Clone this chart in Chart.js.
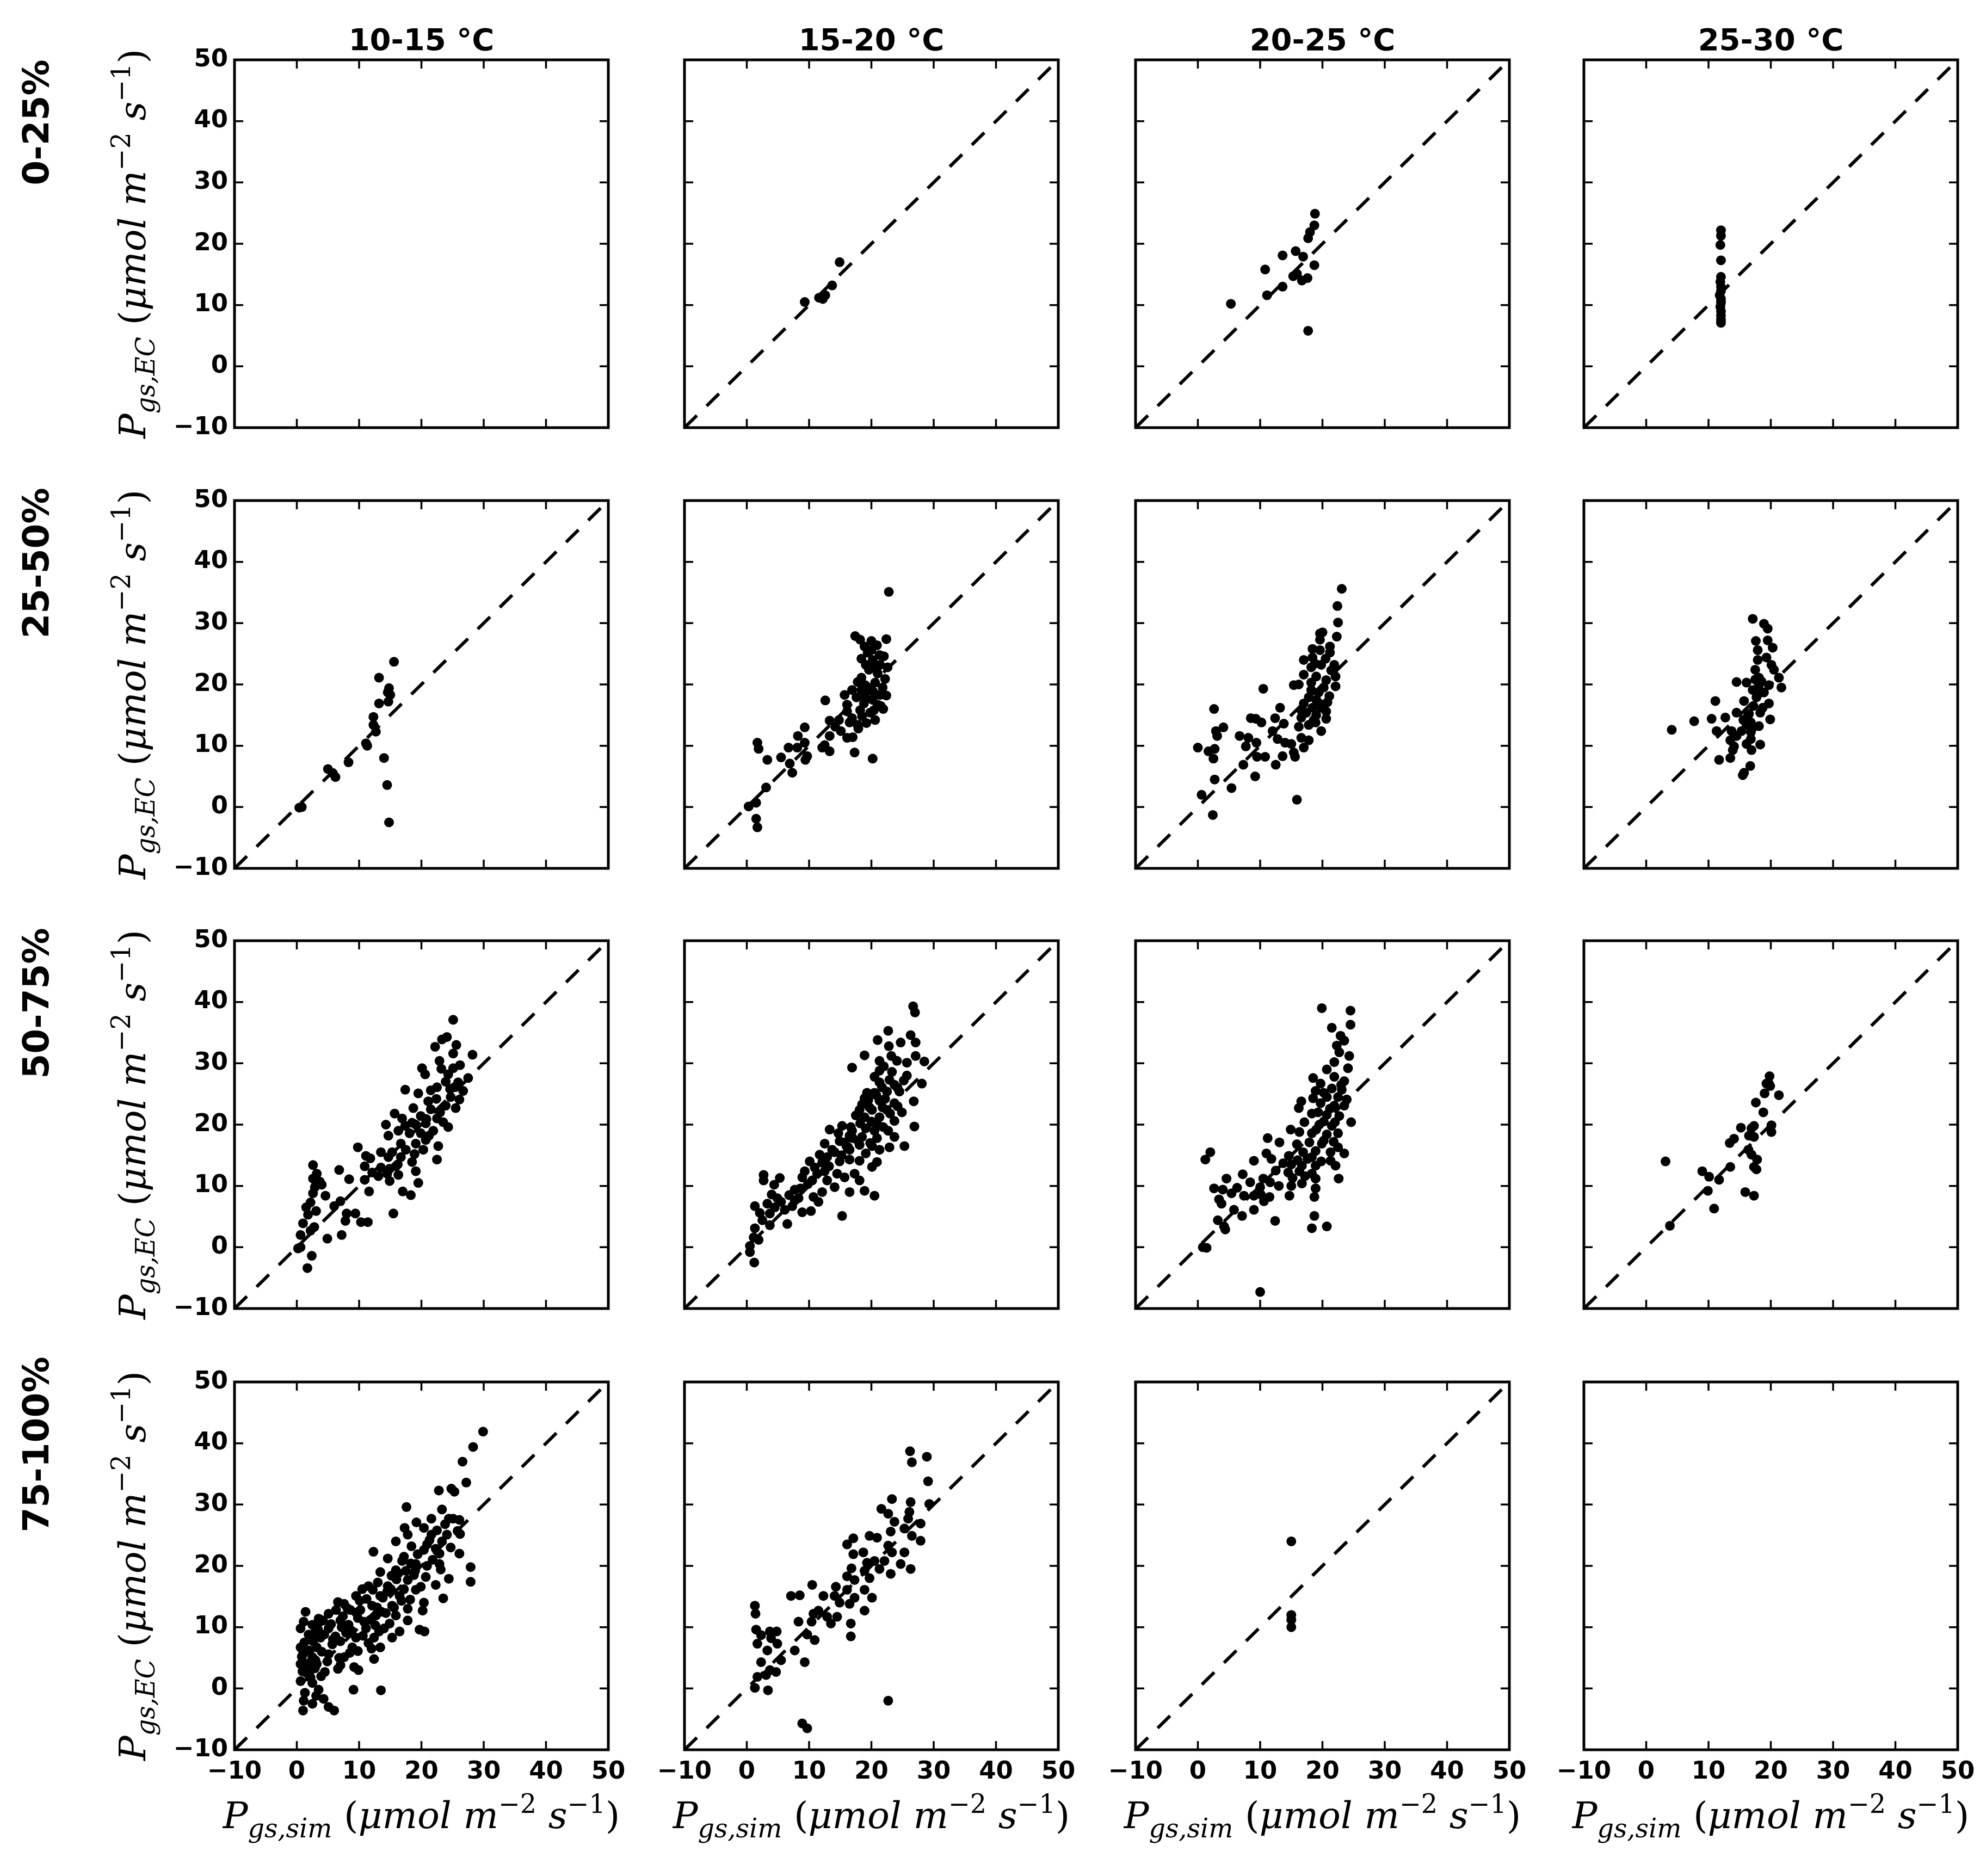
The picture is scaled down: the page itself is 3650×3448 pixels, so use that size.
<!DOCTYPE html>
<html>
<head>
<meta charset="utf-8">
<script src="https://cdn.jsdelivr.net/npm/chart.js"></script>
<style>
  html, body { margin: 0; padding: 0; background: #fff; }
  #page { position: relative; width: 3650px; height: 3448px; overflow: hidden; background: #fff; }
  canvas { position: absolute; }
  .coltitle { position: absolute; text-align: center; font: bold 56px 'DejaVu Sans'; line-height: 56px; color: #000; }
  .rowlab { position: absolute; white-space: nowrap; font: bold 66px 'DejaVu Sans'; color: #000;
            transform: translate(-50%, -50%) rotate(-90deg); }
  .math { position: absolute; white-space: nowrap; font: 68px 'DejaVu Serif'; color: #000; line-height: 1; }
  .math i { font-style: italic; }
  .math sub { font-size: 70%; vertical-align: -0.35em; }
  .math sup { font-size: 70%; vertical-align: 0.6em; }
  .ylab { transform: translate(-50%, -50%) rotate(-90deg); }
  .xlab { transform: translate(-50%, -50%); }
</style>
</head>
<body>
<div id="page"></div>
<script>
// axis setup shared by every panel
const axisMin = -10;
const axisMax = 50;
const tickValues = [-10, 0, 10, 20, 30, 40, 50];

const tempBins = ['10-15 °C', '15-20 °C', '20-25 °C', '25-30 °C'];
const pctBins = ['0-25%', '25-50%', '50-75%', '75-100%'];

// [Pgs,sim, Pgs,EC] pairs
const pct0_25_t10_15 = [];
const pct0_25_t15_20 = [[9.3,10.5],[11.6,11.2],[12.2,11],[12.6,11.6],[13.7,13.2],[14.9,17]];
const pct0_25_t20_25 = [[5.3,10.2],[11.1,11.6],[10.8,15.8],[13.6,13],[13.6,18.1],[15.7,18.8],[15.3,14.7],[15.9,15.1],
  [16.7,14],[16.9,17.9],[17.6,14.4],[17.7,20.9],[18,21.9],[18.7,16.5],[18.7,23],[18.8,24.9],[17.7,5.8]];
const pct0_25_t25_30 = [[12,22.2],[12,21.3],[11.9,19.8],[12,17.3],[12,14.6],[11.9,13.8],[12,13],[12,12.3],
  [11.8,11.6],[12,11],[12,10.4],[11.9,9.7],[12,9],[12,8.3],[12,7.6],[12,7.1]];

const pct25_50_t10_15 = [[0.8,0],[0.4,-0.1],[5,6.2],[5.8,5.5],[6.2,4.9],[8.3,7.3],[11.1,10.4],[11.3,10],[12.3,13.4],
  [12.7,12.3],[12.3,14.7],[13.2,21.1],[13.2,16.9],[14,8],[14.5,3.6],[14.8,-2.5],[14.8,19.4],[15,18.3],[14.7,17.2],
  [15.6,23.7],[14.6,18.7]];
const pct25_50_t15_20 = [[22.8,35.1],[17.4,27.9],[18.2,27.3],[20,27.1],[22.4,27.4],[20,25.6],[18.4,24.2],[22,24.6],
  [20.2,24],[22.6,22.8],[20.2,22.8],[18.4,21.1],[21,21.8],[22.2,20.9],[20.6,20.3],[19.6,19.1],[16.9,19.1],[18.4,19.1],
  [15.7,18.3],[21.4,18.3],[22.4,18.2],[20.2,17.5],[18.8,16.9],[16.1,16.7],[21,16.7],[21.9,16],[16.1,15.6],[18.2,15.8],
  [19.8,15.4],[12.6,17.4],[13.3,14.1],[14.8,14.2],[16.5,13.8],[17.8,13.4],[19.2,13.7],[20.6,14.2],[15.1,12.4],
  [17.9,12.8],[16.1,11.3],[17,11.4],[17.3,8.9],[20.2,7.9],[12.5,10.1],[13.3,11.6],[12.1,9.7],[13.3,9.1],[9.3,13],
  [8.2,11.6],[9.3,10.5],[6.7,9.7],[8.1,9.7],[9.7,8.3],[9.4,7.7],[5.5,8.1],[6.9,7.1],[7.3,5.6],[3.3,7.7],[1.7,10.5],
  [1.9,9.5],[3.1,3.2],[1.5,0.7],[0.3,0.1],[1.5,-1.9],[1.7,-3.3],[19.4,25.2],[19.6,22.4],[21.4,23.2],[19,19.9],
  [21.8,19.5],[17.6,17.9],[19,17.9],[20.4,15.8],[18.9,26.2],[20.9,26.4],[21.3,24.8],[19.1,23.2],[17.8,20.4],
  [20.3,18.8],[21.5,16.5],[18.5,14.8],[16.9,14.5],[14.2,13.1]];
const pct25_50_t20_25 = [[23.1,35.6],[22.4,32.8],[22.5,30.1],[22.3,27.8],[19.6,28.3],[20,28.5],[19.6,27.3],[18.4,25.8],
  [19.6,25.6],[21.2,26.2],[21.2,25.2],[17,24],[18.4,24.4],[18.2,22.8],[19.8,23.2],[21.9,23.2],[22.1,21.3],[17,21.6],
  [19,21.3],[20.6,20.7],[15.4,19.9],[16.2,20],[22.1,19.7],[18.2,19.1],[19.4,18.7],[17.8,17.9],[19,17.5],[20.8,17.1],
  [17,16.9],[18.4,16.2],[19.8,16.2],[16.6,15.8],[20.6,15.6],[19,15],[16.6,14.6],[18.6,14.2],[20.6,14.4],[17.8,13.4],
  [19.8,12.4],[16.6,11.3],[17.8,10.9],[17,9.7],[10.5,19.3],[2.6,16],[13.2,16.2],[8.5,14.5],[9.3,14.4],[10.2,13.8],
  [12.4,14.5],[13.8,13.6],[12,12.4],[4.1,13],[2.9,12.4],[3.1,11.6],[6.7,11.6],[8.1,11.3],[7.7,9.9],[9.4,10.5],
  [12.8,11.1],[14,10.5],[15,10.3],[15.4,8.9],[0,9.7],[1.7,9.1],[2.7,9.5],[2.5,7.9],[9.5,8.2],[10.8,8.2],[12.5,6.9],
  [13.6,8.3],[15.6,8.2],[7.3,6.9],[9.2,5],[2.7,4.5],[5.4,3.1],[0.6,2],[2.4,-1.3],[15.9,1.2],[20.5,24.2],[18.8,23.4],
  [21.4,22.3],[18.2,20.3],[20.2,19.5],[19.5,16.9],[17.4,15.4],[18.9,13.8],[16.2,13.1],[21.1,18.1]];
const pct25_50_t25_30 = [[17.1,30.7],[18.9,29.9],[19.5,29.1],[17.6,27.1],[19.5,27.2],[20.3,26],[17.9,25.6],[19.3,24.4],
  [17.9,24],[20.1,23.2],[17.5,22.4],[20.5,22.4],[18.1,21.1],[21.3,21.1],[14.5,20.4],[16.1,20.3],[18.1,19.9],[19.7,19.9],
  [21.7,19.5],[17.1,19.1],[18.9,18.7],[17.7,17.9],[11.1,17.3],[15.7,17.3],[19.7,16.9],[18.7,16.2],[14.5,15.4],
  [16.5,15.2],[18.3,15.4],[7.7,14],[10.5,14.4],[12.7,14.6],[19.9,14.3],[15.6,14.2],[16.8,13.8],[16.1,13.4],[18.1,13.2],
  [4.1,12.6],[11.3,12.4],[13.7,12.4],[15.3,12.4],[16.8,12.2],[14.5,11.6],[13.5,10.9],[16.8,11.1],[16.1,10.3],
  [18.3,10.2],[14.1,9.9],[13.9,9.3],[16.9,9.3],[11.7,7.7],[13.5,8],[16.7,6.7],[15.7,5.6],[15.5,5.2],[17.5,20.8],
  [18.5,20.5],[18,18.5],[17.2,16.5],[16.3,14.8],[17,12.8]];

const pct50_75_t10_15 = [[25.1,37.1],[24.1,34.3],[23.3,33.9],[22.2,32.7],[25.6,33],[25.1,31.6],[28.2,31.4],[22.9,30.4],
  [23.2,29.1],[26.2,29.7],[20.1,29.2],[20.6,28.2],[25.1,29.2],[24.3,28.2],[27.5,27.6],[25.9,26.9],[25.3,26.1],
  [26.7,25.5],[17.4,25.7],[19.5,25.1],[21.5,25.6],[22.5,26.1],[24.7,24.5],[26.1,24.1],[23.9,23.1],[25.5,22.7],
  [18.7,22.7],[21.5,22.5],[15.7,21.8],[16.9,21],[19.9,21.4],[22.5,21],[14.3,20],[19.1,20],[20.7,20.2],[24.3,19.6],
  [23.5,20.4],[16.3,19],[14.7,18.2],[18.1,18.6],[19.9,18.6],[21.9,19],[16.7,16.9],[19.1,16.9],[20.7,17.5],[22.7,16.5],
  [13.5,15.5],[15.3,15.5],[17.5,15.9],[20.3,15.9],[9.8,16.3],[11.1,14.9],[11.8,14.5],[14.7,14.7],[16.7,14.7],
  [18.5,13.9],[22.5,14.3],[15.9,13.2],[10.9,13.2],[13.5,13],[6.8,12.6],[19.1,12.4],[13.1,11.6],[14.5,12],[16.3,11.8],
  [10.9,11],[14.9,10.8],[19.5,10.5],[8.4,11.1],[2.6,13.4],[3.2,12],[2.6,11.2],[4,10.2],[11.6,9.1],[17,9.1],[18.3,8.5],
  [2.6,8.8],[4.6,8.4],[2.2,7.3],[7,7.5],[6,6.7],[3.1,5.9],[1.8,5.3],[8,5.5],[9.4,5.5],[15.5,5.5],[7.8,4.3],[10.3,4.1],
  [11.4,4.1],[1,3.9],[2.8,3.3],[2.2,2.7],[0.6,2],[4.9,1.4],[7.2,2],[0.6,0],[0.2,-0.2],[2.4,-1.4],[1.7,-3.4],
  [23.9,27],[24.6,25.8],[22.4,24.2],[21.1,23.8],[23,22],[20.8,20.9],[18.5,20.3],[17.4,19.8],[21.2,18.2],[18.9,15.2],
  [16.2,13.5],[14.9,12.8],[12.1,12.2],[3.7,10.7],[2.9,9.8],[1.5,6.5]];
const pct50_75_t15_20 = [[26.7,39.3],[27,38.3],[22.7,35.3],[26.3,34.6],[21,33.8],[24.7,33.4],[27.1,33.4],[22.8,32.8],
  [18.9,31.3],[16.9,29.3],[27.1,31.2],[28.5,30.3],[21.3,30.4],[24.1,30.4],[25.7,30.1],[21.3,28.8],[23.3,28.6],
  [25.7,28],[28.1,26.7],[21.3,26.9],[23.7,26.5],[20.5,25.2],[22.5,25.4],[24.5,25.4],[18.9,24.3],[21.3,23.9],
  [26.8,23.8],[23.7,23.5],[18.1,22.4],[20.1,22.4],[22.5,22.4],[24.9,22],[18.9,21.2],[21.3,21.2],[23.7,20.6],
  [26.9,19.7],[16.7,19.6],[19.1,19.4],[21.9,19.6],[13.3,19.2],[14.7,18.6],[16.5,18.2],[18.5,18],[20.9,17.8],[23.7,18],
  [15.7,17.1],[18.1,16.7],[12.5,16.9],[20.1,16.5],[22.9,16.3],[25.3,16.5],[16.5,15.9],[14.1,15.5],[11.7,15.1],
  [19.1,15.3],[21.3,15.9],[12.9,14.7],[16.5,14.3],[18.1,14.1],[20.9,13.9],[10.1,14],[12.1,13.8],[14.9,14],[20.1,13.1],
  [10.9,13],[12.5,12.4],[14.5,12],[15.7,11.4],[17.3,12],[8.9,11.4],[10.5,10.9],[12.9,10.9],[18.1,10.9],[14.1,9.8],
  [2.7,11.8],[2.7,10.9],[5.3,11.3],[4.4,10.2],[7.7,9.4],[12.1,9],[16.5,9],[18.9,9.2],[20.5,8.4],[10.7,8.2],[4.9,8],
  [8.3,8],[11.5,7.4],[7.3,6.7],[1.3,6.7],[3.3,7.1],[4.5,6.5],[6.1,6.1],[8.9,5.7],[10.3,5.9],[15.3,5.1],[2.5,4.4],
  [3.7,3.6],[6.5,3.8],[1.3,3.1],[1.1,1.6],[1.9,1.2],[0.5,0.2],[0.5,-0.8],[1.2,-2.5],[19.7,22.8],[21.7,26.1],
  [22.9,27.3],[19.3,25.2],[16.9,19],[17.9,17.3],[20.5,19],[22.7,19],[14.9,17.3],[13.7,15.9],[9.3,12.4],[7.7,7.6],
  [3.7,5.5],[17.5,21.5],[18.5,23.3],[19.5,24],[20.8,24.8],[21.8,22.8],[22.2,24.2],[23,21.8],[24.2,23],[20,20.5],
  [21,20],[19.8,17],[17,17.8],[16,16.5],[15.2,15],[13.2,13.2],[11.3,12],[9.8,10.3],[8.6,9.6],[6.8,8.5],[5.5,7.4],
  [4,8.6],[2.1,5.6],[22,29.5],[23.2,31.2],[24.2,26],[25.2,27.2],[20.5,27.8],[18.2,20.2],[15.3,19.8],[12.2,14.5]];
const pct50_75_t20_25 = [[19.9,39],[24.5,38.6],[24.5,36.3],[21.5,35.8],[22.9,34.5],[23.5,33.7],[22.3,32.9],[22.7,31.8],
  [24.3,31.2],[21.9,30.2],[24.1,29.2],[20.7,29],[18.5,27.6],[21.9,27.8],[23.5,27.1],[19.7,26.7],[21.5,25.9],
  [23.1,25.7],[18.9,25.5],[16.6,23.8],[16.2,22.7],[18.5,24.3],[20.7,24.5],[22.5,24.5],[23.9,24.1],[19.7,23.5],
  [21.9,23.1],[23.5,23.1],[18.3,21.8],[20.7,21.6],[22.7,21.4],[17.1,20.4],[24.6,20.4],[19.5,20],[21.5,19.8],[14.9,19.2],
  [16.3,18.8],[18.3,18.6],[20.7,18.4],[22.5,18.6],[11.2,17.8],[13.1,17.1],[15.9,16.8],[17.9,17.1],[19.9,16.9],
  [22.5,16.3],[16.9,15.5],[18.9,15.7],[21.3,15.5],[23.5,15.3],[2,15.5],[1.2,14.3],[11,15.3],[11.8,14.4],[9,14.1],
  [14.6,14.9],[18.3,14.7],[15,13.5],[13.7,13.7],[16.7,13.3],[18.9,13.3],[21.3,14.1],[22.1,13.3],[14.5,12.2],
  [16.3,12.4],[18.3,12],[22.6,11.2],[4.6,11.2],[7.2,11.9],[8.4,10.6],[10.5,11.2],[11.6,10.6],[13,10],[15,10],
  [16.7,10.4],[18.9,11.2],[2.6,9.6],[4,9.4],[5.4,8.8],[7.4,8.4],[9,8.4],[10.1,8.6],[11.5,8.2],[14.7,8.4],[18.9,9.6],
  [18.7,8.2],[3.4,7.8],[3.8,7.1],[10.6,7.5],[9,6.1],[5.8,6.1],[7.1,5.1],[12.4,4.3],[18.7,5.1],[18.3,3.1],[20.7,3.4],
  [3.2,4.4],[4.2,3.4],[4.4,2.9],[0.8,0],[1.4,-0.1],[10,-7.3],[19.3,22],[20.2,20.5],[21.2,22.6],[22,20.4],[19,19.2],
  [20.2,17.4],[21.8,17.2],[17.6,14.4],[19.8,14],[16,14.2],[15.2,11.3],[17.2,11.6],[12.5,12.5],[10,9.8],[6.3,9.7],
  [23,26.5],[20.2,25.2]];
const pct50_75_t25_30 = [[19.8,27.9],[19.7,26.7],[19.3,26.7],[19.9,26.3],[19,25.1],[21.3,24.8],[17.6,23.6],[18.8,22],
  [17.3,19.8],[16.9,19.4],[15.2,19.5],[20.1,19.9],[20.1,18.8],[16.5,18.2],[17.3,18],[14.1,17.7],[13.4,17],[16.4,15.9],
  [16.9,15.1],[17.8,14.3],[17.3,13.1],[17.7,12.7],[3.1,14],[13.5,13.1],[9,12.4],[10.1,11.5],[11.7,11],[9.9,9.2],
  [15.9,9],[17.3,8.4],[10.9,6.3],[3.8,3.5]];

const pct75_100_t10_15 = [[29.9,41.9],[28.3,39.4],[26.6,37],[27.2,33.6],[24.8,32.6],[25.3,32.1],[22.8,32.3],[17.6,29.6],
  [23.3,29.2],[24.4,27.7],[26.1,27.5],[21.6,27.7],[19.2,27.1],[20.4,26.2],[25.8,25.7],[17.3,26.2],[17.8,25.1],
  [21.6,25.1],[15.9,24],[18.4,23.2],[23.3,24],[12.3,22.3],[26.1,22],[20.4,22.6],[22.9,22],[17.2,21.5],[14.6,21.2],
  [27.9,19.8],[27.9,17.4],[19.1,20.3],[22.9,20.3],[15.9,19.3],[24.4,17.9],[13.4,19],[20.7,18.2],[17.8,17.7],
  [22.3,16.9],[11.5,16.7],[14.6,16.7],[19.1,16.1],[23.5,14.7],[10.5,16.2],[13.4,15.1],[16.5,15.1],[20.4,14],[6.6,14.1],
  [7.6,13.8],[9.5,15.1],[12.1,13.5],[15.3,13.5],[17.8,13],[20.2,12.7],[1.4,12.5],[5.1,12.2],[9.5,12.4],[12.7,11.9],
  [15.9,11.9],[3.5,11.4],[7,11.1],[17.8,11.1],[19.7,9.6],[20.5,9.3],[0.6,9.8],[2.5,10.4],[5.1,9.8],[8.3,10.4],
  [11.1,9.8],[14,9.8],[16.5,9.3],[1.9,8.8],[3.8,8.3],[7,7.7],[9.5,8.3],[12.4,8.3],[15.3,8.3],[0.6,6.7],[3.2,6.7],
  [5.7,7.2],[8.9,6.7],[13.4,6.7],[1,5.6],[2.5,5.1],[5.1,5.6],[7.6,5.1],[12.4,4.8],[0.6,4],[3.2,4],[7,3.8],[9.2,3.5],
  [9.9,3],[1.6,2.5],[4.5,2.7],[0.6,1.2],[2.5,0.9],[3.5,-0.2],[9.1,-0.2],[13.5,-0.3],[1.3,-0.7],[3.1,-1.2],[1.1,-2],
  [2.5,-2.5],[4.3,-1.7],[1,-3.6],[5.1,-3],[6,-3.6],[1.2,7.5],[2,6.2],[2.8,9],[3.6,10.8],[4.4,8.8],[1.5,3.2],[2.2,1.8],
  [0.9,2.8],[3,4.6],[4,6],[5.5,10.5],[6.2,8.5],[6.8,5],[7.9,9.1],[8.6,12.8],[10.2,12.8],[10.8,10.9],[11.8,11.2],
  [12.9,13.2],[13.8,14.8],[14.3,12.3],[15.1,16.2],[16,17.8],[16.8,14.3],[17.5,19.2],[18.3,20.4],[19.4,21.9],
  [18.8,18.5],[20.9,23.5],[21.8,21],[22.5,25.8],[23.8,26.8],[24.7,23],[11.2,14.6],[9.8,11.5],[12,6.5],[14.9,10.6],
  [13.2,9.3],[8.1,13.1],[7.2,10],[0.8,5.2],[1.8,4.1],[2.6,7.7],[3.4,9.6],[4.2,11.1],[5.8,8],[4.9,4.4],[3.9,2],
  [2.9,3.3],[1.1,10.9],[6.3,12.8],[7.4,11.8],[8.8,9.4],[9.8,6.1],[10.6,8.6],[11.5,7.4],[12.6,10.3],[13.6,12.5],
  [14.5,15.8],[15.6,13.2],[16.3,18.8],[17.2,16.2],[18.2,14.5],[19,19.2],[19.9,16.6],[20.9,20],[21.3,24.2],[22.3,22.8],
  [23.1,19.4],[24.1,25.1],[25.1,27.7],[26.2,25.2],[16.9,20.8],[15.2,18.4],[13,17.3],[12.2,16.1],[10.1,14.3],[8.5,5.8],
  [6.6,3.2]];
const pct75_100_t15_20 = [[26.2,38.7],[26.5,36.9],[28.9,37.8],[29.1,33.8],[23.3,30.9],[26.3,30.4],[29.3,30.1],
  [21.6,29.3],[22.7,28.5],[26.1,28.8],[25.9,27.7],[23.7,27.2],[27.9,26.9],[25.3,26.1],[23.1,25.6],[19.7,24.9],
  [20.9,24.6],[26.5,24.9],[27.9,24.1],[17.1,24.5],[16.1,23.5],[22.7,23.3],[23.3,22.2],[17.1,21.9],[18.7,22.2],
  [25.3,22.2],[19.3,20.5],[20.5,20.8],[22.1,20.8],[24.7,20.3],[16.8,19.6],[26.3,19.5],[18.9,19.2],[21.3,19.5],
  [23.1,18.7],[16.1,18.3],[17.3,17.7],[19.7,18],[10.5,16.9],[14.3,16.6],[16.1,16.1],[18.9,16.1],[7.1,15.1],[8.5,15.2],
  [12.3,15.1],[14.1,15.1],[17.3,14.8],[20.1,14.8],[14.9,14],[16.5,13.8],[11.5,12.7],[18.9,12.7],[10.7,12.2],
  [12.9,11.7],[14.5,11.7],[13.5,10.6],[16.7,10.6],[8.3,10.9],[10.4,10.9],[16.7,8.5],[9.7,8.8],[1.3,13.5],[1.4,12.2],
  [1.5,9.6],[3.7,9.3],[4.8,9.3],[2.3,8.7],[3.9,8.2],[10.9,7.9],[1.7,7.3],[4.9,7.3],[7.7,6.2],[3.3,6.2],[9.3,4.3],
  [5.5,4.6],[2.3,4.3],[3.7,3],[4.7,2.7],[1.7,1.9],[3.1,2.2],[1.3,0.1],[3.4,-0.3],[22.7,-2],[8.9,-5.7],[9.7,-6.5]];
const pct75_100_t20_25 = [[15,24],[15,12],[15,11.2],[15,10]];
const pct75_100_t25_30 = [];

const panels = [
  [pct0_25_t10_15, pct0_25_t15_20, pct0_25_t20_25, pct0_25_t25_30],
  [pct25_50_t10_15, pct25_50_t15_20, pct25_50_t20_25, pct25_50_t25_30],
  [pct50_75_t10_15, pct50_75_t15_20, pct50_75_t20_25, pct50_75_t25_30],
  [pct75_100_t10_15, pct75_100_t15_20, pct75_100_t20_25, pct75_100_t25_30]
];

// page layout (pixels)
const colLeft = [431, 1258, 2087, 2911];
const rowTop = [110, 920, 1729, 2540];
const panelW = 687, panelH = 676;
const PADL = 140, PADR = 40, PADT = 40, PADB = 90;
const TICK = 16;

const page = document.getElementById('page');

function fmtTick(v) {
  return v < 0 ? '\u2212' + Math.abs(v) : String(v);
}

// matplotlib-like frame: box on all four sides, ticks pointing inward
const frameTicks = {
  id: 'frameTicks',
  afterDatasetsDraw(chart) {
    const ctx = chart.ctx, a = chart.chartArea;
    const sx = chart.scales.x, sy = chart.scales.y;
    ctx.save();
    ctx.strokeStyle = '#000';
    ctx.lineWidth = 3.5;
    ctx.beginPath();
    tickValues.forEach(function (v) {
      const px = sx.getPixelForValue(v), py = sy.getPixelForValue(v);
      ctx.moveTo(px, a.bottom); ctx.lineTo(px, a.bottom - TICK);
      ctx.moveTo(px, a.top); ctx.lineTo(px, a.top + TICK);
      ctx.moveTo(a.left, py); ctx.lineTo(a.left + TICK, py);
      ctx.moveTo(a.right, py); ctx.lineTo(a.right - TICK, py);
    });
    ctx.stroke();
    ctx.lineWidth = 5;
    ctx.strokeRect(a.left, a.top, a.right - a.left, a.bottom - a.top);
    ctx.restore();
  }
};

function tickFont() {
  return { family: 'DejaVu Sans', weight: 'bold', size: 45 };
}

function makePanel(r, c) {
  const pts = panels[r][c];
  const showY = c === 0;
  const showX = r === 3;

  const canvas = document.createElement('canvas');
  canvas.width = panelW + PADL + PADR;
  canvas.height = panelH + PADT + PADB;
  canvas.style.left = (colLeft[c] - PADL) + 'px';
  canvas.style.top = (rowTop[r] - PADT) + 'px';
  page.appendChild(canvas);

  const datasets = [];
  if (pts.length) {
    // 1:1 reference line over the full axis range
    datasets.push({
      data: [{ x: axisMin, y: axisMin }, { x: axisMax, y: axisMax }],
      showLine: true,
      borderColor: '#000',
      borderWidth: 6,
      borderDash: [32, 25],
      pointRadius: 0,
      fill: false
    });
    datasets.push({
      data: pts.map(function (p) { return { x: p[0], y: p[1] }; }),
      pointRadius: 9,
      pointBackgroundColor: '#000',
      pointBorderWidth: 0,
      showLine: false
    });
  }

  new Chart(canvas, {
    type: 'scatter',
    data: { datasets: datasets },
    options: {
      responsive: false,
      animation: false,
      events: [],
      layout: { padding: { top: PADT, right: PADR, left: 0, bottom: 0 } },
      plugins: { legend: { display: false }, tooltip: { enabled: false } },
      scales: {
        x: {
          type: 'linear', min: axisMin, max: axisMax,
          grid: { display: false, drawTicks: false },
          border: { display: false },
          ticks: { display: showX, stepSize: 10, autoSkip: false, maxRotation: 0, padding: 14,
                   color: '#000', font: tickFont(), callback: fmtTick },
          afterFit: function (s) { s.height = PADB; s.paddingLeft = 0; s.paddingRight = 0; }
        },
        y: {
          type: 'linear', min: axisMin, max: axisMax,
          grid: { display: false, drawTicks: false },
          border: { display: false },
          ticks: { display: showY, stepSize: 10, autoSkip: false, padding: 12,
                   color: '#000', font: tickFont(), callback: fmtTick },
          afterFit: function (s) { s.width = PADL; s.paddingTop = 0; s.paddingBottom = 0; }
        }
      }
    },
    plugins: [frameTicks]
  });
}

for (let r = 0; r < 4; r++) {
  for (let c = 0; c < 4; c++) {
    makePanel(r, c);
  }
}

// column titles
tempBins.forEach(function (t, c) {
  const d = document.createElement('div');
  d.className = 'coltitle';
  d.style.left = colLeft[c] + 'px';
  d.style.width = panelW + 'px';
  d.style.top = '45px';
  d.textContent = t;
  page.appendChild(d);
});

// row labels
pctBins.forEach(function (t, r) {
  const d = document.createElement('div');
  d.className = 'rowlab';
  d.style.left = '66px';
  d.style.top = (rowTop[r] + 115) + 'px';
  d.textContent = t;
  page.appendChild(d);
});

const yLabelHtml = '<i>P</i><sub><i>gs,EC</i></sub> (<i>\u03bcmol m</i><sup>\u22122</sup> <i>s</i><sup>\u22121</sup>)';
const xLabelHtml = '<i>P</i><sub><i>gs,sim</i></sub> (<i>\u03bcmol m</i><sup>\u22122</sup> <i>s</i><sup>\u22121</sup>)';

// y axis labels on the first column
rowTop.forEach(function (top) {
  const d = document.createElement('div');
  d.className = 'math ylab';
  d.style.left = '245px';
  d.style.top = (top + panelH / 2) + 'px';
  d.innerHTML = yLabelHtml;
  page.appendChild(d);
});

// x axis labels under the last row
colLeft.forEach(function (left) {
  const d = document.createElement('div');
  d.className = 'math xlab';
  d.style.left = (left + panelW / 2) + 'px';
  d.style.top = '3338px';
  d.innerHTML = xLabelHtml;
  page.appendChild(d);
});
</script>
</body>
</html>
